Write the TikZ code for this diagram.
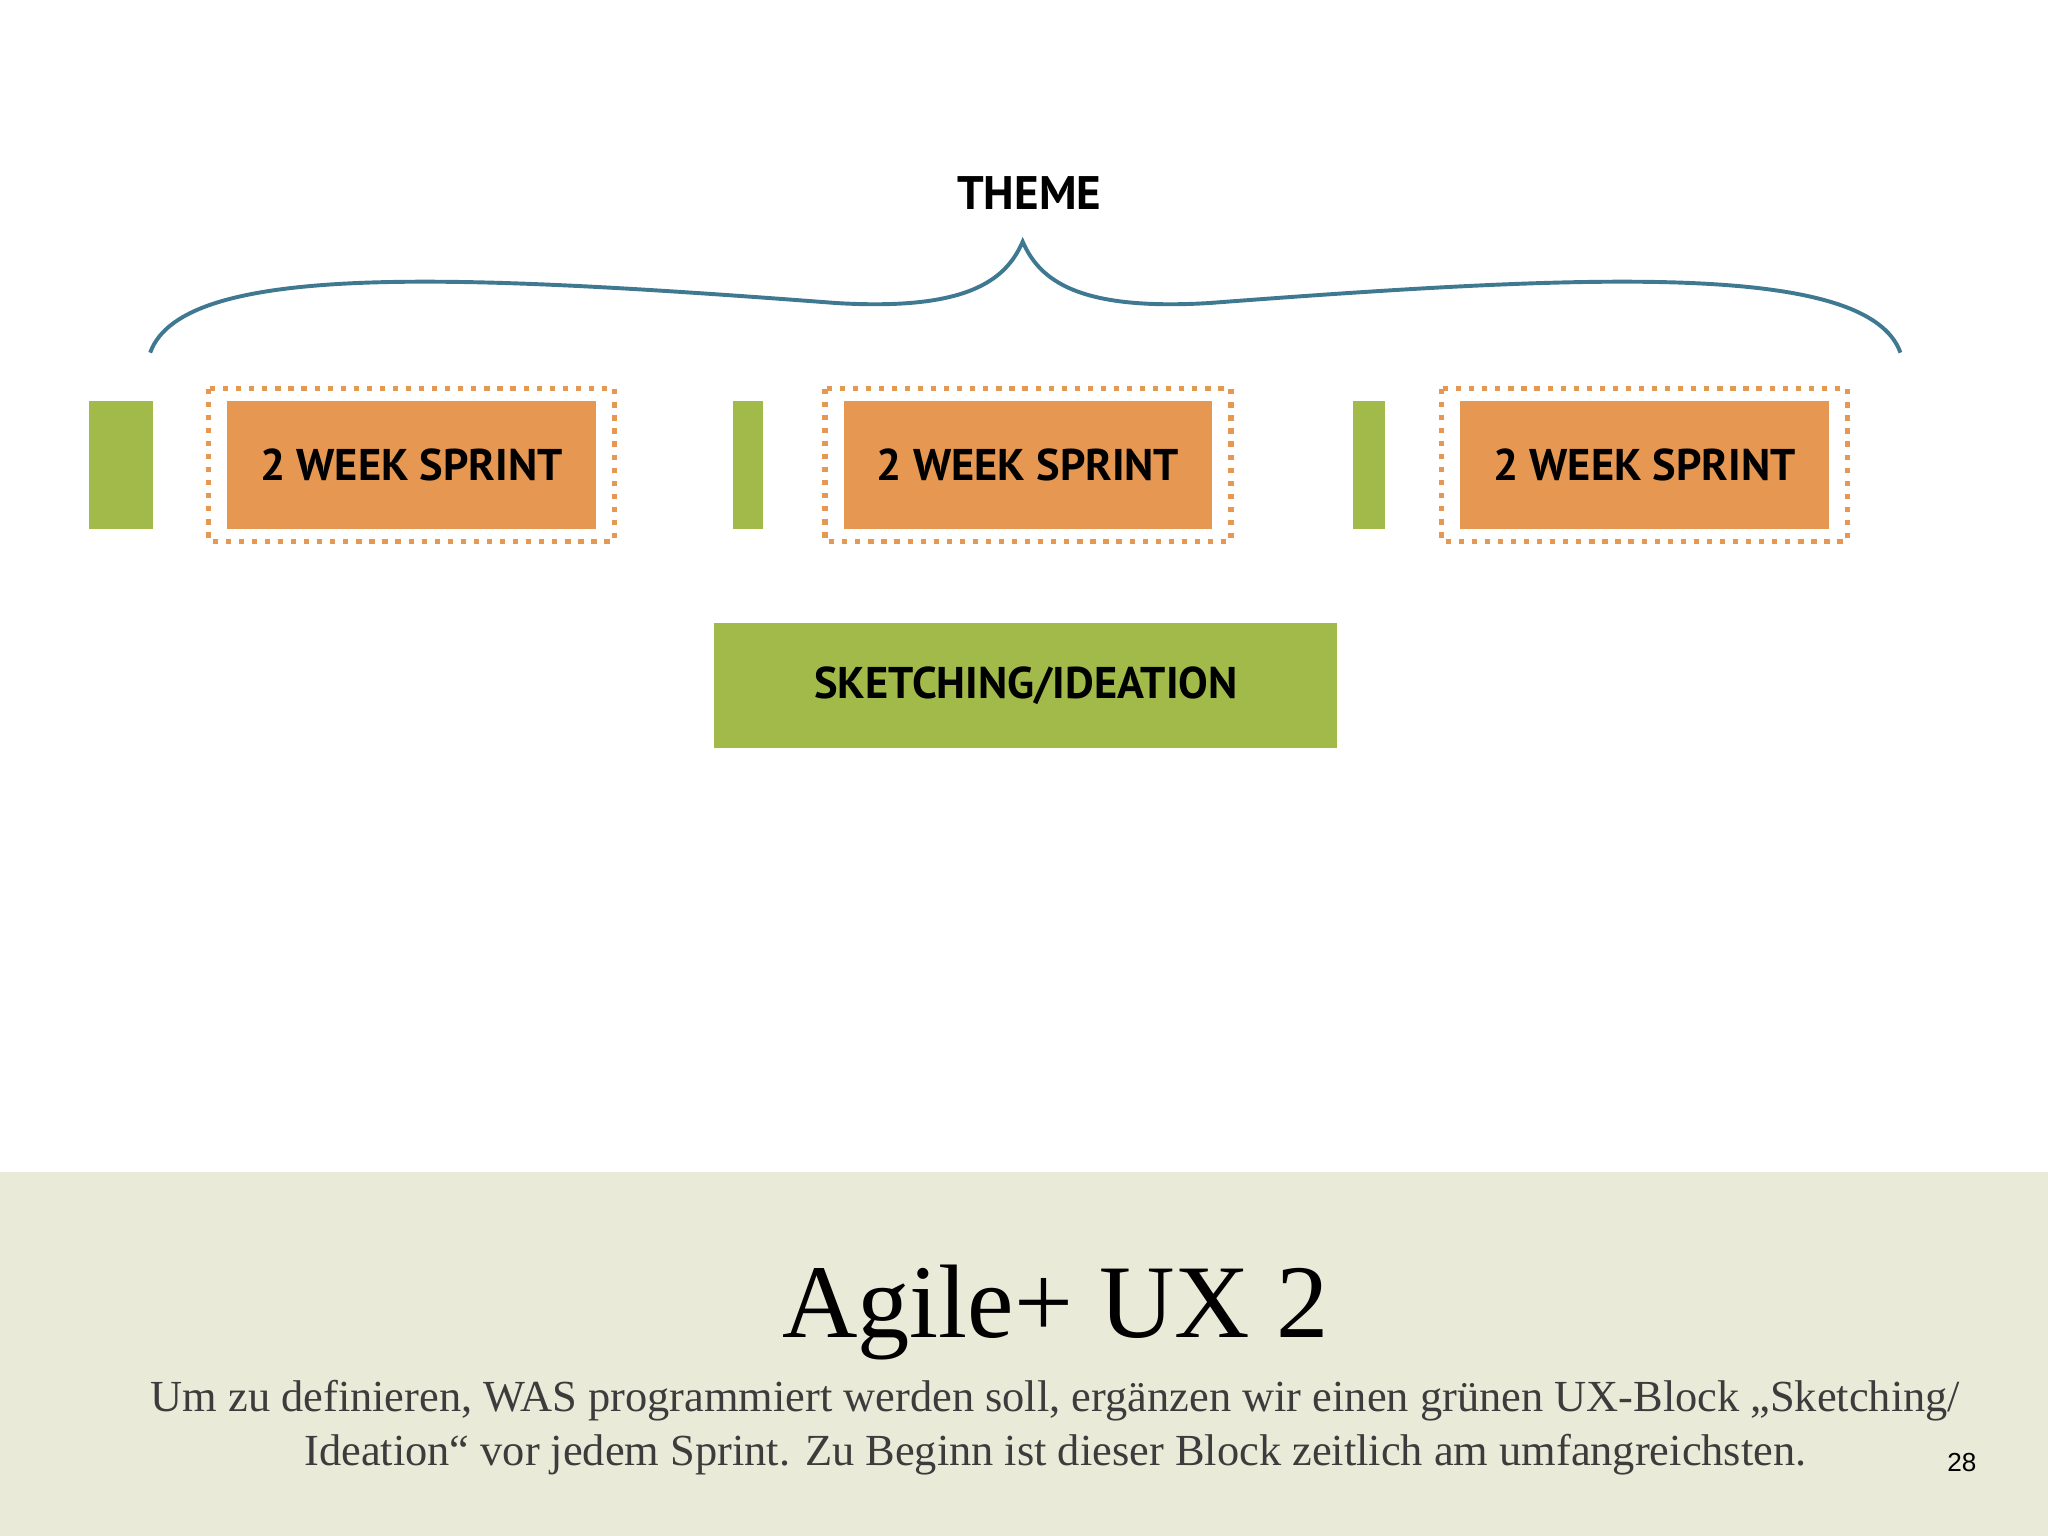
\documentclass[tikz,border=0pt]{standalone}
\usepackage{fontspec}
\setmainfont{Liberation Serif}
\newfontfamily\diagfont{PT Sans}
\newfontfamily\numfont{Liberation Sans}
\usetikzlibrary{calc}
\begin{document}
\begin{tikzpicture}[x=0.5pt,y=-0.5pt]
\definecolor{bandColor}{RGB}{234,234,216}
\definecolor{greenColor}{RGB}{161,186,74}
\definecolor{orangeColor}{RGB}{230,151,82}
\definecolor{braceColor}{RGB}{62,120,145}
\definecolor{textColor}{RGB}{60,60,60}
\tikzset{
  sprint/.style={fill=orangeColor,minimum width=141pt,minimum height=49pt,inner sep=0pt,
    font=\diagfont\bfseries\fontsize{17}{20}\selectfont},
  frame/.style={draw=orangeColor,line width=2pt,dash pattern=on 2pt off 3pt},
  bar/.style={fill=greenColor,inner sep=0pt,minimum height=49pt}
}
\path[use as bounding box] (0,0) rectangle (1568,1176);
\fill[bandColor] (0,897) rectangle (1568,1176);

% theme and brace
\node[font=\diagfont\bfseries\fontsize{18}{20}\selectfont] (theme) at (788,148) {THEME};
\coordinate (braceL) at (115,270);
\coordinate (braceM) at (783,185);
\coordinate (braceR) at (1455,270);
\draw[braceColor,line width=1.5pt] (braceL) .. controls (140,200) and (350,210) .. (640,232)
  .. controls (740,238) and (770,215) .. (braceM)
  .. controls (796,215) and (826,238) .. (926,232)
  .. controls (1216,210) and (1430,200) .. (braceR);

% sprints
\foreach \i/\x/\b/\w in {1/315/92.5/24.5,2/787/572.5/11.5,3/1259/1048/12}{
  \node[bar,minimum width=\w pt] (bar\i) at (\b,356) {};
  \node[sprint] (sprint\i) at (\x,356) {2 WEEK SPRINT};
  \draw[frame] ($(sprint\i.north west)+(-14,-9)$) rectangle ($(sprint\i.south east)+(14,9)$);
}
\node[fill=greenColor,minimum width=238.5pt,minimum height=48pt,inner sep=0pt,
  font=\diagfont\bfseries\fontsize{17}{20}\selectfont] (sketch) at (785.5,525) {SKETCHING/IDEATION};

% caption
\node[font=\fontsize{40}{44}\selectfont] (title) at (808,1005) {Agile+ UX 2};
\node[text=textColor,align=center,font=\fontsize{17}{20.5}\selectfont] (body) at (808,1093)
  {Um zu definieren, WAS programmiert werden soll, ergänzen wir einen grünen UX-Block „Sketching/\\
   Ideation“ vor jedem Sprint. Zu Beginn ist dieser Block zeitlich am umfangreichsten.};
\node[font=\numfont\fontsize{10}{12}\selectfont] (page) at (1502,1120) {28};
\end{tikzpicture}
\end{document}
